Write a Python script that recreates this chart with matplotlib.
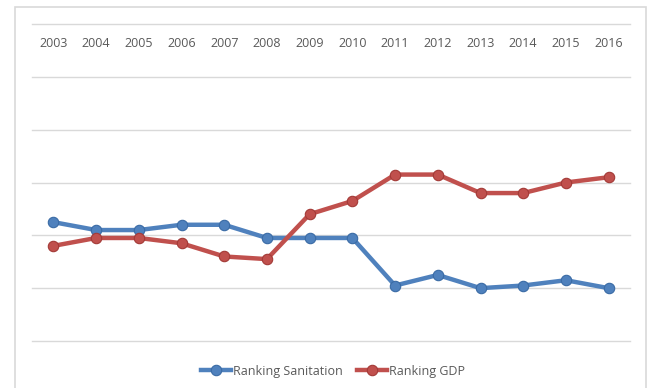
import matplotlib.pyplot as plt
from matplotlib.patches import Rectangle

# data (rank, axis reversed)
years = ["2003", "2004", "2005", "2006", "2007", "2008", "2009",
         "2010", "2011", "2012", "2013", "2014", "2015", "2016"]
rank_sanitation = [75, 78, 78, 76, 76, 81, 81, 81, 99, 95, 100, 99, 97, 100]
rank_gdp = [84, 81, 81, 83, 88, 89, 72, 67, 57, 57, 64, 64, 60, 58]

blue = "#4F81BD"
red = "#C0504D"
grid_c = "#D9D9D9"
text_c = "#595959"

plt.rcParams["font.family"] = ["Open Sans", "DejaVu Sans"]

fig = plt.figure(figsize=(6.49, 3.88), dpi=100)
fig.patches.append(Rectangle((15 / 649, -0.05), 631 / 649, 1.05 - 7 / 388,
                             transform=fig.transFigure, fill=False,
                             edgecolor=grid_c, linewidth=1.2))

ax = fig.add_axes([32 / 649, 1 - 341 / 388, 598 / 649, 317 / 388])
x = range(len(years))
ax.plot(x, rank_sanitation, color=blue, lw=3.2, marker="o", ms=7.5,
        mfc=blue, mec="#3A6BA5", mew=0.8, label="Ranking Sanitation", zorder=3)
ax.plot(x, rank_gdp, color=red, lw=3.2, marker="o", ms=7.5,
        mfc=red, mec="#A33A37", mew=0.8, label="Ranking GDP", zorder=3)

ax.set_xlim(-0.5, len(years) - 0.5)
ax.set_ylim(120, 0)
ax.set_yticks(range(0, 121, 20))
ax.yaxis.grid(True, color=grid_c, lw=1)
for gl in ax.get_ygridlines():
    gl.set_clip_on(False)
ax.tick_params(axis="y", left=False, labelleft=False)
ax.set_xticks(list(x))
ax.set_xticklabels(years)
ax.tick_params(axis="x", top=False, bottom=False, labeltop=True,
               labelbottom=False, pad=-22, labelsize=9, labelcolor=text_c)
for s in ax.spines.values():
    s.set_visible(False)

fig.legend(loc="center", bbox_to_anchor=(333 / 649, 1 - 371 / 388), ncol=2,
           frameon=False, fontsize=9, labelcolor=text_c, handlelength=2.4,
           handletextpad=0.1, columnspacing=1.2)

fig.savefig("out.png", dpi=100)
